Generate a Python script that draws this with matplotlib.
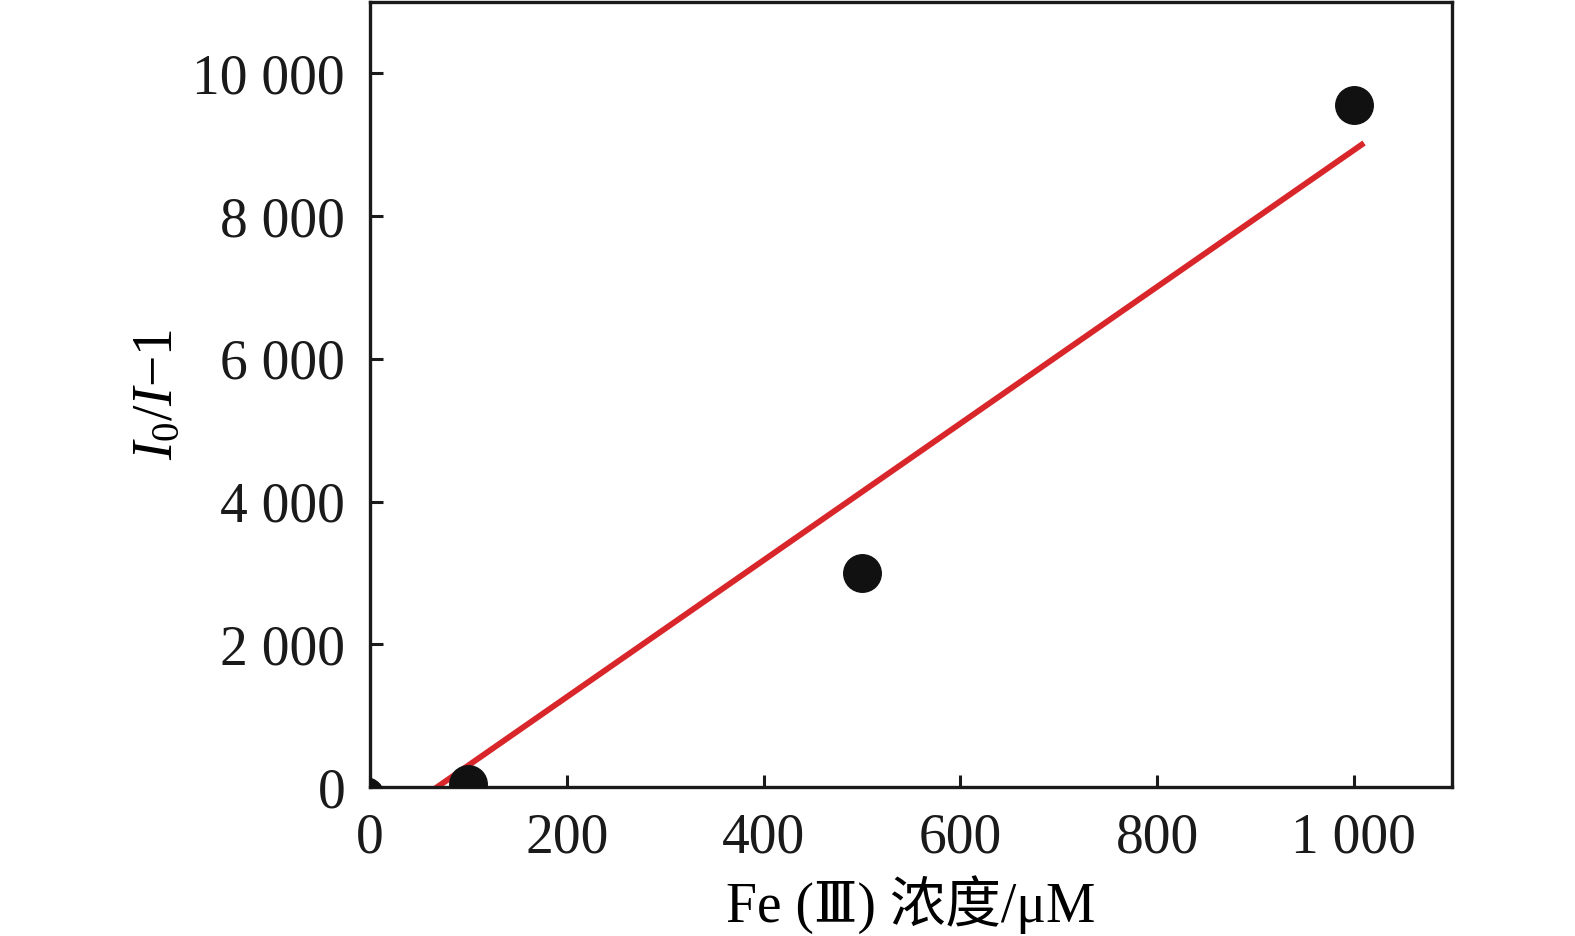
import matplotlib
matplotlib.use("Agg")
import matplotlib.pyplot as plt
from matplotlib.ticker import FuncFormatter

plt.rcParams['font.family'] = ['Liberation Serif', 'DejaVu Serif', 'Noto Sans CJK SC']
plt.rcParams['mathtext.fontset'] = 'custom'
plt.rcParams['mathtext.rm'] = 'Liberation Serif'
plt.rcParams['mathtext.it'] = 'Liberation Serif:italic'

# data
conc = [-5, 100, 500, 1000]
ratio = [-120, 40, 3000, 9550]
fit_x = [68, 1008]
fit_y = [0, 9000]
x_ticks = [0, 200, 400, 600, 800, 1000]
y_ticks = [0, 2000, 4000, 6000, 8000, 10000]


def spaced(v, pos):
    return f"{int(v):,}".replace(",", " ")


fig = plt.figure(figsize=(15.75, 9.36), dpi=100)
ax = fig.add_axes([0.235, 0.159, 0.687, 0.839])

ax.plot(fit_x, fit_y, color='#d9262a', lw=4.2, zorder=2)
ax.scatter(conc, ratio, s=730, color='#111111', zorder=3)

ax.set_xlim(0, 1100)
ax.set_ylim(0, 11000)
ax.set_xticks(x_ticks)
ax.set_yticks(y_ticks)
ax.xaxis.set_major_formatter(FuncFormatter(spaced))
ax.yaxis.set_major_formatter(FuncFormatter(spaced))

ax.tick_params(direction='in', length=9, width=2.2, labelsize=40, pad=18,
               colors='#1a1a1a')
for s in ax.spines.values():
    s.set_linewidth(2.4)
    s.set_color('#1a1a1a')

ax.set_xlabel('Fe (Ⅲ) 浓度/μM', fontsize=40, labelpad=8)
ax.set_ylabel(r'$I_0/I$−1', fontsize=40, labelpad=6)

fig.savefig('out.png', dpi=100)
